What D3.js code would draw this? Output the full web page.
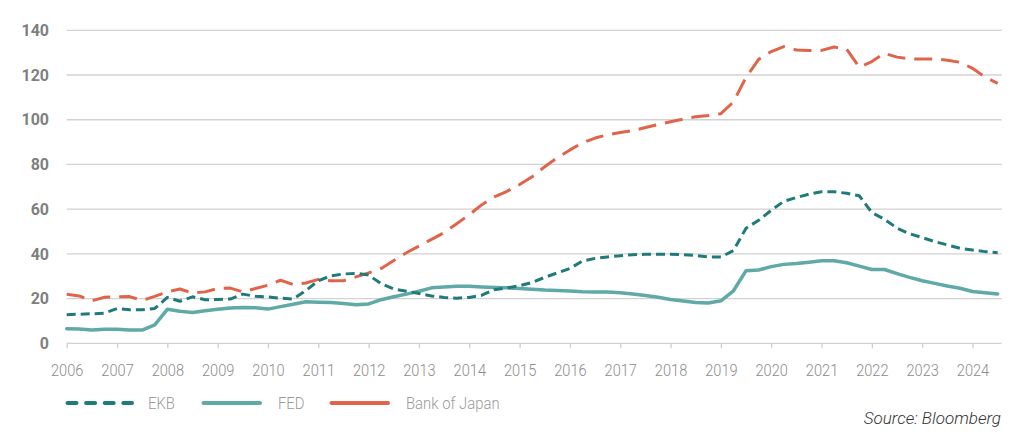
<!DOCTYPE html>
<html>
<head>
<meta charset="utf-8">
<script src="https://cdn.jsdelivr.net/npm/d3@7"></script>
<style>
  body { margin: 0; background: #fff; }
  svg { display: block; font-family: Roboto, "Open Sans", sans-serif; }
</style>
</head>
<body>
<div class="canvas"></div>
<script>
// quarterly observations, 2006 Q1 .. 2024 Q3
const quarters = d3.range(75).map(i => 2006 + i / 4);
const years = d3.range(2006, 2025);
const yTicks = [0, 20, 40, 60, 80, 100, 120, 140];

const ekb = [
  12.8, 13.0, 13.2, 13.5, 15.5, 15.0, 15.0, 15.6, 20.5, 18.8,
  20.8, 19.5, 19.6, 19.8, 22.0, 21.0, 20.7, 20.2, 19.8, 23.5,
  28.0, 30.2, 31.0, 31.3, 30.5, 26.7, 24.3, 23.3, 22.3, 21.2,
  20.5, 20.2, 20.5, 21.5, 24.0, 24.8, 25.8, 27.2, 29.5, 31.5,
  33.5, 36.8, 38.0, 38.6, 39.2, 39.6, 39.8, 39.8, 39.8, 39.6,
  39.3, 38.6, 38.6, 41.5, 51.5, 55.0, 59.5, 63.5, 65.2, 66.7,
  67.8, 67.8, 67.1, 66.0, 58.5, 55.5, 51.5, 49.0, 47.3, 45.5,
  44.0, 42.5, 41.7, 41.0, 40.5
];

const fed = [
  6.5, 6.4, 6.0, 6.3, 6.3, 6.0, 5.9, 8.2, 15.2, 14.3,
  13.8, 14.6, 15.2, 15.8, 16.0, 15.9, 15.3, 16.4, 17.5, 18.6,
  18.4, 18.2, 17.8, 17.2, 17.6, 19.5, 20.8, 22.0, 23.3, 24.8,
  25.2, 25.5, 25.5, 25.2, 25.0, 24.8, 24.5, 24.2, 23.8, 23.6,
  23.4, 23.1, 23.0, 22.9, 22.6, 22.0, 21.4, 20.6, 19.6, 18.9,
  18.2, 18.0, 19.0, 23.5, 32.5, 32.8, 34.3, 35.3, 35.7, 36.3,
  36.9, 36.9, 36.0, 34.5, 33.0, 33.0, 31.2, 29.5, 28.0, 26.8,
  25.6, 24.6, 23.2, 22.6, 22.1
];

const boj = [
  21.9, 21.2, 19.0, 20.6, 20.8, 20.9, 19.2, 21.0, 23.0, 24.3,
  22.5, 23.0, 24.5, 24.7, 23.0, 24.5, 26.0, 28.2, 26.3, 27.0,
  28.6, 28.0, 28.0, 29.7, 31.5, 33.5, 37.0, 40.5, 43.5, 46.5,
  49.5, 53.5, 57.5, 62.0, 65.5, 68.0, 71.0, 74.5, 79.0, 83.0,
  86.5, 89.7, 91.8, 93.3, 94.3, 95.1, 96.5, 97.8, 99.1, 100.3,
  101.3, 101.9, 102.7, 108.0, 119.0, 127.0, 130.5, 132.7, 131.2, 131.0,
  131.0, 132.5, 131.5, 123.5, 126.0, 129.7, 128.0, 127.2, 127.2, 127.2,
  126.6, 125.7, 123.0, 119.0, 116.3
];

const seriesNames = ["EKB", "FED", "Bank of Japan"];
const seriesValues = [ekb, fed, boj];

const dims = {width: 1024, height: 445};
const margin = {top: 30.3, right: 22.3, bottom: 101.7, left: 66.7};

const styles = [
  {color: "#1f7b7a", width: 3, dash: "9,5", cap: "butt"},
  {color: "#5fa9a6", width: 3.5, dash: null, cap: "round"},
  {color: "#e0644a", width: 3, dash: "18,9", cap: "butt"}
];

const svg = d3.select(".canvas")
  .append("svg")
  .attr("width", dims.width)
  .attr("height", dims.height);

const x = d3.scaleLinear()
  .domain([2006, 2024.58])
  .range([margin.left, dims.width - margin.right]);

const y = d3.scaleLinear()
  .domain([0, 140])
  .range([dims.height - margin.bottom, margin.top]);

// gridlines
svg.append("g")
  .selectAll("line")
  .data(yTicks)
  .join("line")
    .attr("x1", x.range()[0])
    .attr("x2", x.range()[1])
    .attr("y1", d => y(d))
    .attr("y2", d => y(d))
    .attr("stroke", "#d2d2d2")
    .attr("stroke-width", 1.3);

// y labels
svg.append("g")
  .selectAll("text")
  .data(yTicks)
  .join("text")
    .attr("x", 49)
    .attr("y", d => y(d))
    .attr("dy", "0.36em")
    .attr("text-anchor", "end")
    .attr("font-size", 16)
    .attr("font-weight", 700)
    .attr("fill", "#7f7f7f")
    .text(d => d);

// x axis
const xAxis = d3.axisBottom(x)
  .tickValues(years)
  .tickFormat(d3.format("d"))
  .tickSize(5)
  .tickPadding(16);

const xg = svg.append("g")
  .attr("transform", `translate(0, ${y(0)})`)
  .call(xAxis);
xg.select(".domain").remove();
xg.selectAll(".tick line").attr("stroke", "#cfcfcf").attr("stroke-width", 1.3);
// labels in the original are tall and narrow
xg.selectAll(".tick text")
  .attr("font-family", "Roboto, sans-serif")
  .attr("font-size", 17)
  .attr("font-weight", 300)
  .attr("fill", "#8c8c8c")
  .attr("transform", "scale(0.86,1)");

// lines
const line = d3.line()
  .x((d, i) => x(quarters[i]))
  .y(d => y(d));

const graph = svg.append("g");
[2, 1, 0].forEach(i => {
  graph.append("path")
    .datum(seriesValues[i])
    .attr("d", line)
    .attr("fill", "none")
    .attr("stroke", styles[i].color)
    .attr("stroke-width", styles[i].width)
    .attr("stroke-dasharray", styles[i].dash)
    .attr("stroke-linecap", styles[i].cap)
    .attr("stroke-linejoin", "round");
});

// legend
const legendX = [66, 202, 330];
const legend = svg.append("g").attr("transform", "translate(0, 403)");
seriesNames.forEach((name, i) => {
  legend.append("line")
    .attr("x1", legendX[i] + 1.5)
    .attr("x2", legendX[i] + (i === 0 ? 66 : 58))
    .attr("stroke", styles[i].color)
    .attr("stroke-width", 4)
    .attr("stroke-linecap", "round")
    .attr("stroke-dasharray", i === 0 ? "9,9.6" : null);
  legend.append("text")
    .attr("x", legendX[i] + (i === 0 ? 82 : 76))
    .attr("dy", "0.35em")
    .attr("font-size", 16)
    .attr("font-weight", 300)
    .attr("fill", "#9a9a9a")
    .attr("transform", `translate(${legendX[i] + (i === 0 ? 82 : 76)},0) scale(0.93,1) translate(${-(legendX[i] + (i === 0 ? 82 : 76))},0)`)
    .text(name);
});

// source
svg.append("text")
  .attr("x", 1001)
  .attr("y", 424)
  .attr("text-anchor", "end")
  .attr("font-size", 17)
  .attr("font-style", "italic")
  .attr("font-weight", 300)
  .attr("fill", "#333")
  .text("Source: Bloomberg");
</script>
</body>
</html>
